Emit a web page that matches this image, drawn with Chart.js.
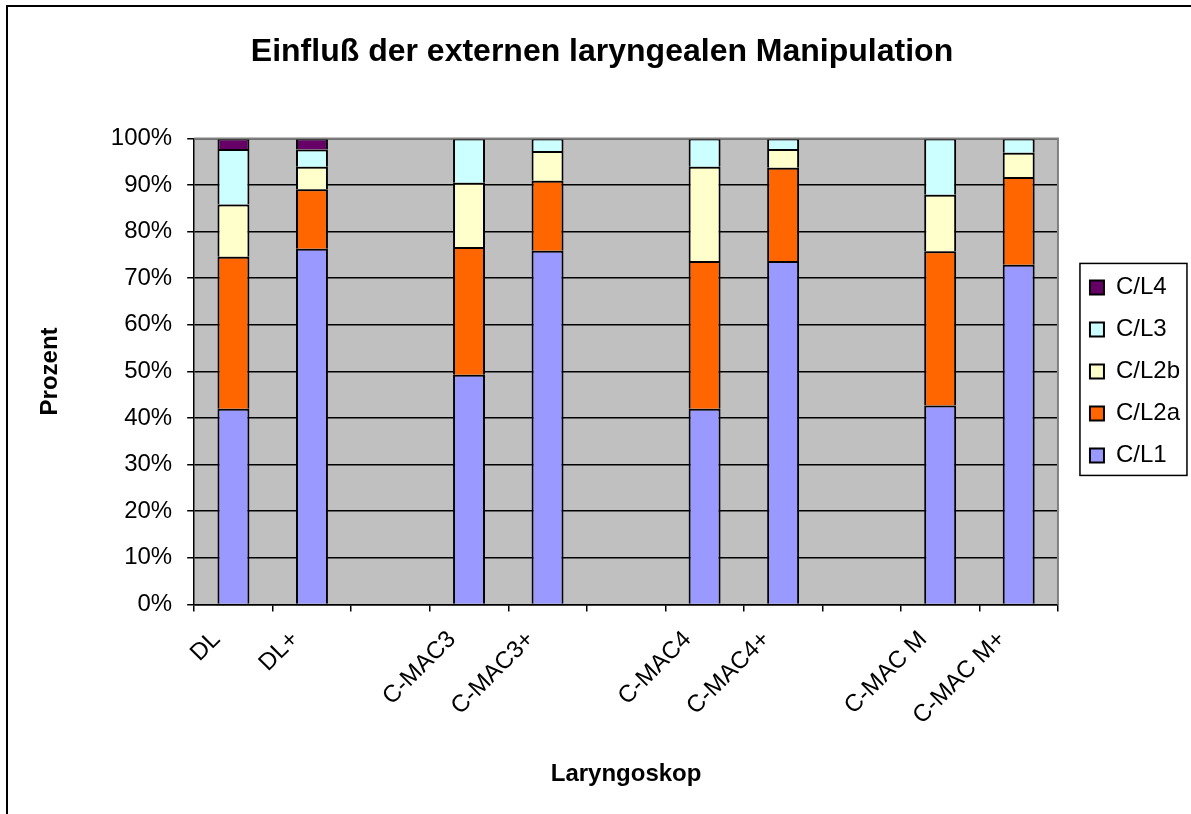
<!DOCTYPE html>
<html>
<head>
<meta charset="utf-8">
<script src="https://cdn.jsdelivr.net/npm/chart.js@4.4.1/dist/chart.umd.min.js"></script>
<style>
  html, body { margin: 0; padding: 0; background: #ffffff; }
  #wrap { position: relative; width: 1191px; height: 814px; overflow: hidden; }
  #frame { position: absolute; left: 6px; top: 5px; right: -10px; bottom: -10px; border-left: 2px solid #000; border-top: 2px solid #000; pointer-events: none; }
  canvas { position: absolute; left: 0; top: 0; }
</style>
</head>
<body>
<div id="wrap">
  <canvas id="c" width="1191" height="814"></canvas>
  <div id="frame"></div>
</div>
<script>
// ---- data (percent per category; '' = spacer category) ----
const categories = ['DL', 'DL+', '', 'C-MAC3', 'C-MAC3+', '', 'C-MAC4', 'C-MAC4+', '', 'C-MAC M', 'C-MAC M+'];
const seriesNames = ['C/L1', 'C/L2a', 'C/L2b', 'C/L3', 'C/L4'];
const cl1  = [42.0, 76.3, null, 49.3, 75.9, null, 42.0, 73.7, null, 42.7, 72.9];
const cl2a = [32.6, 12.8, null, 27.4, 15.0, null, 31.7, 20.0, null, 33.1, 18.8];
const cl2b = [11.2,  4.8, null, 13.8,  6.4, null, 20.2,  4.0, null, 12.1,  5.2];
const cl3  = [11.9,  3.7, null,  9.5,  2.7, null,  6.1,  2.3, null, 12.1,  3.1];
const cl4  = [ 2.3,  2.4, null, null, null, null, null, null, null, null, null];
const yTicks = [0, 10, 20, 30, 40, 50, 60, 70, 80, 90, 100];
const titleText = 'Einfluß der externen laryngealen Manipulation';
const xTitle = 'Laryngoskop';
const yTitle = 'Prozent';

const colors = ['#9999FF', '#FF6600', '#FFFFCC', '#CCFFFF', '#660066'];
const values = [cl1, cl2a, cl2b, cl3, cl4];

Chart.defaults.font.family = '"Liberation Sans", Arial, sans-serif';
Chart.defaults.color = '#000000';

const plotBg = {
  id: 'plotBg',
  beforeDraw(chart) {
    const {ctx, chartArea: a} = chart;
    ctx.save();
    ctx.fillStyle = '#C0C0C0';
    ctx.fillRect(a.left, a.top, a.right - a.left, a.bottom - a.top);
    ctx.restore();
  },
  afterDraw(chart) {
    const {ctx, chartArea: a} = chart;
    ctx.save();
    ctx.strokeStyle = '#808080';
    ctx.lineWidth = 2;
    ctx.beginPath();
    ctx.moveTo(a.left, a.top);
    ctx.lineTo(a.right, a.top);
    ctx.lineTo(a.right, a.bottom);
    ctx.stroke();
    // legend frame
    const hb = chart.legend.legendHitBoxes;
    if (hb && hb.length) {
      let left = Infinity, top = Infinity, bottom = -Infinity;
      hb.forEach(h => { left = Math.min(left, h.left); top = Math.min(top, h.top); bottom = Math.max(bottom, h.top + h.height); });
      ctx.strokeStyle = '#000000';
      ctx.lineWidth = 1.5;
      ctx.strokeRect(left - 10, top - 12, 107, bottom - top + 20);
    }
    ctx.restore();
  }
};

new Chart(document.getElementById('c'), {
  type: 'bar',
  data: {
    labels: categories,
    datasets: seriesNames.map((n, i) => ({
      label: n,
      data: values[i],
      backgroundColor: colors[i],
      borderColor: '#000000',
      borderWidth: 2,
      barPercentage: 0.407,
      categoryPercentage: 1.0
    }))
  },
  options: {
    responsive: false,
    animation: false,
    layout: { padding: { left: 14, right: 1, top: 0, bottom: 0 } },
    plugins: {
      title: {
        display: true,
        text: titleText,
        font: { size: 32, weight: 'bold' },
        padding: { top: 33, bottom: 67 }
      },
      legend: {
        position: 'right',
        fullSize: false,
        reverse: true,
        labels: {
          boxWidth: 14,
          boxHeight: 14,
          padding: 18,
          font: { size: 24 }
        }
      },
      tooltip: { enabled: false }
    },
    scales: {
      x: {
        stacked: true,
        grid: { drawOnChartArea: false, color: '#000000', tickLength: 7, lineWidth: 1.5, offset: true },
        border: { color: '#000000', width: 1.5 },
        ticks: { minRotation: 45, maxRotation: 45, font: { size: 24 }, padding: 14, labelOffset: -17, autoSkip: false },
        title: { display: true, text: xTitle, font: { size: 24, weight: 'bold' }, padding: { top: 16, bottom: 25 } }
      },
      y: {
        stacked: true,
        min: 0,
        max: 100,
        afterBuildTicks(scale) { scale.ticks = yTicks.map(v => ({ value: v })); },
        grid: { color: '#000000', lineWidth: 1.5, tickLength: 7 },
        border: { color: '#000000', width: 1.5 },
        ticks: { font: { size: 24 }, padding: 15, callback: v => v + '%' },
        title: { display: true, text: yTitle, font: { size: 24, weight: 'bold' }, padding: { top: 22, bottom: 31 } }
      },
      gap: {
        type: 'linear',
        position: 'right',
        display: true,
        grid: { display: false, drawTicks: false },
        border: { display: false },
        ticks: { display: false },
        afterFit(s) { s.width = 14; }
      }
    }
  },
  plugins: [plotBg]
});
</script>
</body>
</html>
